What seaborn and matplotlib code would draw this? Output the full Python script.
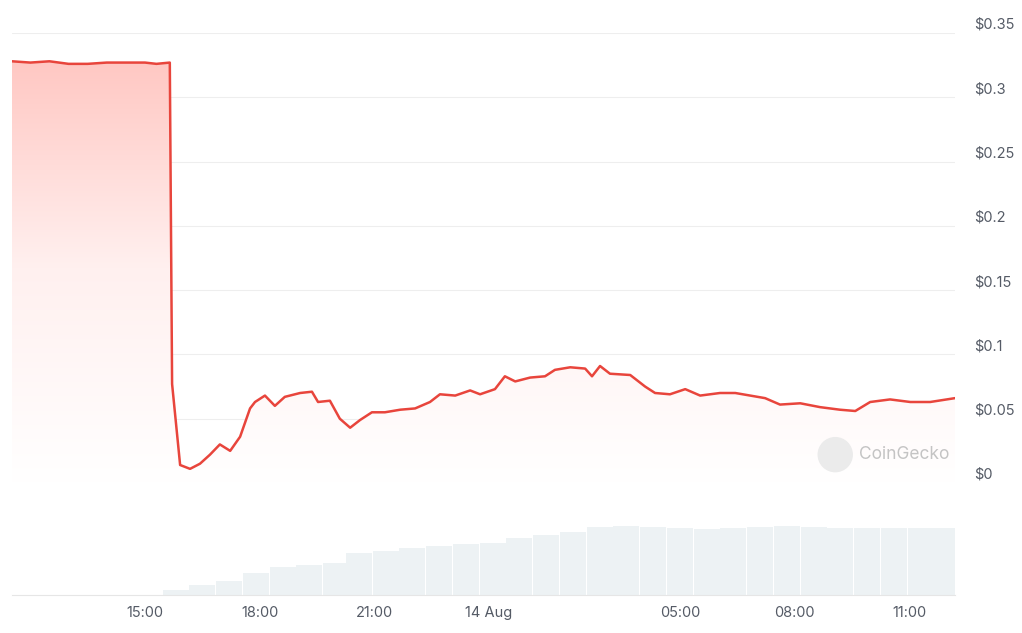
import matplotlib
matplotlib.use("Agg")
import matplotlib.pyplot as plt
import seaborn as sns
import numpy as np
from matplotlib.patches import Ellipse
from matplotlib.colors import LinearSegmentedColormap

sns.set_style("white")
plt.rcParams['font.family'] = ['Inter', 'DejaVu Sans']

hours = [11.52, 12.0, 12.5, 13.0, 13.5, 14.0, 14.5, 15.0, 15.3, 15.65, 15.71, 15.92, 16.18, 16.44, 16.70, 16.96, 17.23,
         17.49, 17.75, 17.88, 18.14, 18.40, 18.66, 19.06, 19.37, 19.53, 19.84, 20.10, 20.37, 20.63,
         20.94, 21.28, 21.68, 22.07, 22.46, 22.72, 23.12, 23.51, 23.77, 24.16, 24.42, 24.69, 25.08,
         25.47, 25.73, 26.13, 26.52, 26.70, 26.91, 27.17, 27.70, 28.09, 28.35, 28.74, 29.14, 29.53,
         30.05, 30.45, 30.84, 31.23, 31.62, 32.15, 32.67, 33.19, 33.59, 33.98, 34.50, 35.03, 35.55, 36.20]
prices = [0.328, 0.327, 0.328, 0.326, 0.326, 0.327, 0.327, 0.327, 0.326, 0.327, 0.077, 0.014, 0.011, 0.015, 0.022, 0.030, 0.025,
          0.036, 0.058, 0.063, 0.068, 0.060, 0.067, 0.070, 0.071, 0.063, 0.064, 0.050, 0.043, 0.049,
          0.055, 0.055, 0.057, 0.058, 0.063, 0.069, 0.068, 0.072, 0.069, 0.073, 0.083, 0.079, 0.082,
          0.083, 0.088, 0.090, 0.089, 0.083, 0.091, 0.085, 0.084, 0.075, 0.070, 0.069, 0.073, 0.068,
          0.070, 0.070, 0.068, 0.066, 0.061, 0.062, 0.059, 0.057, 0.056, 0.063, 0.065, 0.063, 0.063, 0.066]

vol_hours = [15.8, 16.5, 17.2, 17.9, 18.6, 19.3, 20.0, 20.6, 21.3, 22.0, 22.7, 23.4, 24.1, 24.8, 25.5,
             26.2, 26.9, 27.6, 28.3, 29.0, 29.7, 30.4, 31.1, 31.8, 32.5, 33.2, 33.9, 34.6, 35.3, 36.0]
volumes = [5, 10, 14, 22, 28, 30, 32, 42, 44, 47, 49, 51, 52, 57, 60,
           63, 68, 69, 68, 67, 66, 67, 68, 69, 68, 67, 67, 67, 67, 67]

tick_hours = [15, 18, 21, 24, 29, 32, 35]
tick_labels = ["15:00", "18:00", "21:00", "14 Aug", "05:00", "08:00", "11:00"]
ytick_vals = [0, 0.05, 0.1, 0.15, 0.2, 0.25, 0.3, 0.35]
ytick_labels = ["$0", "$0.05", "$0.1", "$0.15", "$0.2", "$0.25", "$0.3", "$0.35"]

W, H = 1022, 633
fig = plt.figure(figsize=(W/100, H/100), dpi=100)
L, R = 12/W, 955/W
ax = fig.add_axes([L, 1-483/H, R-L, (483-33)/H])
axv = fig.add_axes([L, 1-595/H, R-L, (595-483)/H])
xlim = (11.52, 36.2)
line_c = "#e8453c"

ax.set_xlim(*xlim); ax.set_ylim(0, 0.35)
grad = np.linspace(0, 1, 256).reshape(-1, 1)
cmap = LinearSegmentedColormap.from_list("g", ["#ffffff", "#fff0ef", "#ffc6c1"])
im = ax.imshow(grad, extent=[xlim[0], xlim[1], 0, 0.335], origin="lower", aspect="auto", cmap=cmap, zorder=1)
poly = ax.fill_between(hours, prices, 0, color="none")
im.set_clip_path(poly.get_paths()[0], transform=ax.transData)
sns.lineplot(x=hours, y=prices, ax=ax, color=line_c, lw=1.8, zorder=3)
ax.set_yticks(ytick_vals)
ax.set_yticklabels([])
ax.grid(axis="y", color="#eeeeee", lw=0.8)
ax.set_axisbelow(True)
ax.tick_params(axis="y", length=0)
for v, lab in zip(ytick_vals, ytick_labels):
    ax.annotate(lab, xy=(1, v), xycoords=("axes fraction", "data"), xytext=(19, 8),
                textcoords="offset pixels", ha="left", va="center", color="#555b66", fontsize=10.5,
                annotation_clip=False)
ax.set_xticks([])
for s in ax.spines.values():
    s.set_visible(False)
ax.text(0.898, 0.063, "CoinGecko", transform=ax.transAxes, ha="left", va="center", color="#c4c4c4", fontsize=12.5)
ax.add_patch(Ellipse((0.873, 0.063), 34/943, 34/450, transform=ax.transAxes, color="#ebebeb", zorder=2))

axv.bar(vol_hours, volumes, width=0.68, color="#edf2f4", edgecolor="none")
axv.set_xlim(*xlim); axv.set_ylim(0, 112)
axv.set_yticks([])
axv.set_xticks(tick_hours)
axv.set_xticklabels(tick_labels, color="#555b66", fontsize=10.5)
axv.tick_params(axis="x", length=0, pad=8)
for k, s in axv.spines.items():
    s.set_visible(k == "bottom")
axv.spines["bottom"].set_color("#e6e6e6")

fig.savefig("out.png", dpi=100, facecolor="white")
